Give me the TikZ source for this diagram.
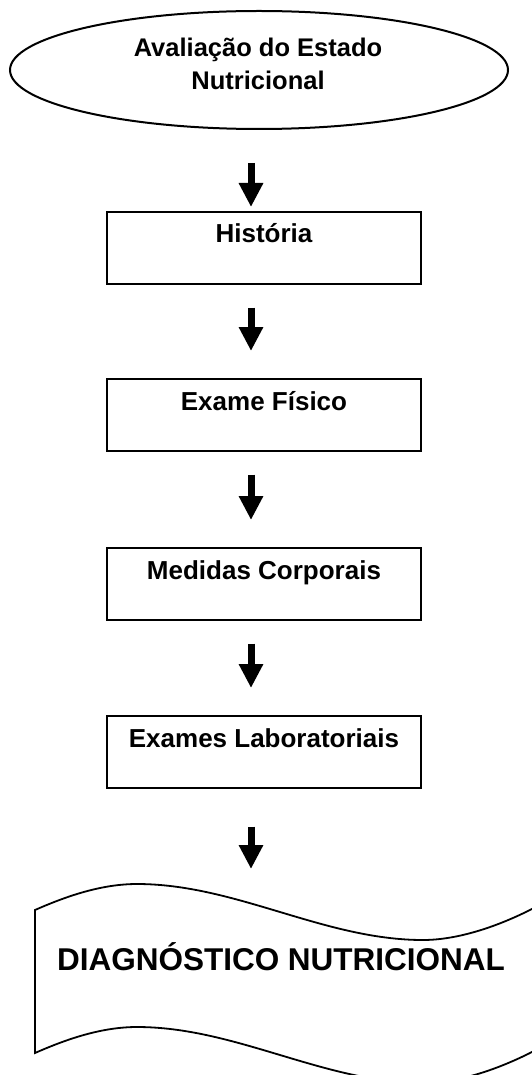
\documentclass[tikz,border=0pt]{standalone}
\usepackage{fontspec}
\setmainfont{Liberation Sans}
\usetikzlibrary{shapes.geometric,arrows.meta,calc}

\tikzset{
	stepbox/.style={draw, line width=2.5pt, minimum width=314pt, inner xsep=0pt, inner ysep=0pt, outer sep=0pt,
		text height=31pt, text depth=41pt, anchor=north, font=\bfseries\fontsize{26}{30}\selectfont},
	bigarrow/.style={line width=7pt, -{Triangle[length=24pt,width=23pt]}, shorten <=23.5pt, shorten >=28pt}
}

\begin{document}
\begin{tikzpicture}[x=1pt,y=-1pt]
	\path[use as bounding box, clip] (0,0) rectangle (532,1075);

	\node[draw, ellipse, line width=2pt, minimum width=498pt, minimum height=118pt, inner sep=0pt, outer sep=0pt] (aval) at (259,70) {};
	\node[align=center, font=\bfseries\fontsize{25.5}{32.6}\selectfont] (avaltxt) at (258,64) {Avaliação do Estado\\Nutricional};

	\node[stepbox] (hist) at (264,212) {História};
	\node[stepbox] (exfis) at (264,379) {Exame Físico};
	\node[stepbox] (medcorp) at (264,548) {Medidas Corporais};
	\node[stepbox] (exlab) at (264,716) {Exames Laboratoriais};

	% folha do diagnostico
	\draw[line width=1.8pt] (35,910) .. controls (69,895) and (103,884) .. (137,884)
		.. controls (236,884) and (324,940) .. (423,940)
		.. controls (473,940) and (535,912) .. (580,880) -- (580,1023)
		.. controls (535,1055) and (473,1083) .. (423,1083)
		.. controls (324,1083) and (236,1027) .. (137,1027)
		.. controls (103,1027) and (69,1038) .. (35,1053) -- cycle;
	\node[anchor=base, font=\bfseries\fontsize{31.5}{36}\selectfont] (diag) at (281,970.5) {DIAGNÓSTICO NUTRICIONAL};

	\coordinate (ax) at (251,0);
	\coordinate (diagtop) at (251,869);

	\draw[bigarrow, shorten <=34pt, shorten >=5pt] (aval.south -| ax) -- (hist.north -| ax);
	\draw[bigarrow] (hist.south -| ax) -- (exfis.north -| ax);
	\draw[bigarrow] (exfis.south -| ax) -- (medcorp.north -| ax);
	\draw[bigarrow] (medcorp.south -| ax) -- (exlab.north -| ax);
	\draw[bigarrow, shorten <=38.5pt, shorten >=0pt] (exlab.south -| ax) -- (diagtop);
\end{tikzpicture}
\end{document}
